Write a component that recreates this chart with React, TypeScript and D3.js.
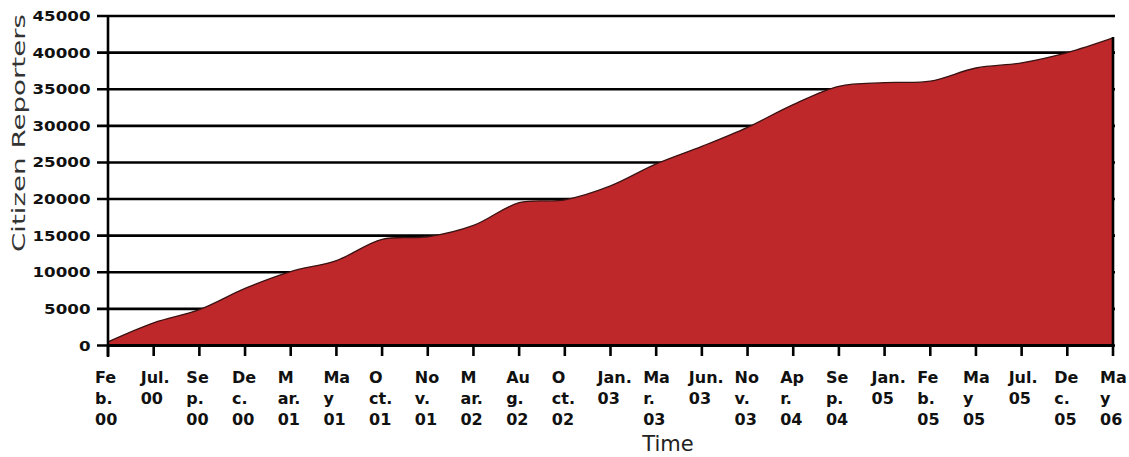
import React from "react";
import * as d3 from "d3";

const categories = [
  "Feb 00", "Jul 00", "Sep 00", "Dec 00", "Mar 01", "May 01", "Oct 01", "Nov 01",
  "Mar 02", "Aug 02", "Oct 02", "Jan 03", "Mar 03", "Jun 03", "Nov 03", "Apr 04",
  "Sep 04", "Jan 05", "Feb 05", "May 05", "Jul 05", "Dec 05", "May 06",
];

const tickLabels = [
  "Fe|b.|00", "Jul.|00", "Se|p.|00", "De|c.|00", "M|ar.|01", "Ma|y|01", "O|ct.|01", "No|v.|01",
  "M|ar.|02", "Au|g.|02", "O|ct.|02", "Jan.|03", "Ma|r.|03", "Jun.|03", "No|v.|03", "Ap|r.|04",
  "Se|p.|04", "Jan.|05", "Fe|b.|05", "Ma|y|05", "Jul.|05", "De|c.|05", "Ma|y|06",
];

const reporters = [
  500, 3100, 4900, 7800, 10100, 11600, 14500, 14850,
  16400, 19500, 19900, 21800, 24800, 27200, 29800, 32900,
  35400, 35900, 36100, 37900, 38600, 40000, 42000,
];

const yTicks = [0, 5000, 10000, 15000, 20000, 25000, 30000, 35000, 40000, 45000];

const yTitle = "Citizen Reporters";
const xTitle = "Time";

const W = 1129;
const H = 457;
const left = 108;
const right = 1113;
const top = 16;
const bottom = 345.5;

export default function App() {
  const x = d3.scalePoint<string>().domain(categories).range([left, right]);
  const y = d3.scaleLinear().domain([0, 45000]).range([bottom, top]);

  const data = categories.map((c, i) => ({ c, v: reporters[i] }));
  const curve = d3.curveCatmullRom.alpha(0.5);

  const area = d3
    .area<{ c: string; v: number }>()
    .x((d) => x(d.c)!)
    .y0(y(0))
    .y1((d) => y(d.v))
    .curve(curve);
  const line = d3
    .line<{ c: string; v: number }>()
    .x((d) => x(d.c)!)
    .y((d) => y(d.v))
    .curve(curve);

  const last = data[data.length - 1];

  return (
    <svg
      width={W}
      height={H}
      style={{ position: "absolute", left: 0, top: 0, background: "#fff" }}
    >
      {/* gridlines */}
      {yTicks.map((t) => (
        <line
          key={"g" + t}
          x1={97}
          x2={right + 2}
          y1={y(t)}
          y2={y(t)}
          stroke="#000"
          strokeWidth={2.6}
        />
      ))}

      {/* area over gridlines */}
      <path d={area(data)!} fill="#BE282A" />
      <path d={line(data)!} fill="none" stroke="#3a1212" strokeWidth={1.3} />

      {/* x axis line */}
      <line x1={left} x2={right} y1={y(0)} y2={y(0)} stroke="#000" strokeWidth={2.8} />
      {/* y axis line */}
      <line x1={left} x2={left} y1={top - 1} y2={357} stroke="#000" strokeWidth={2.6} />
      {/* right edge */}
      <line x1={right} x2={right} y1={y(last.v) - 1} y2={y(0)} stroke="#000" strokeWidth={2.6} />

      {/* x ticks */}
      {categories.map((c) => (
        <line key={"t" + c} x1={x(c)!} x2={x(c)!} y1={y(0)} y2={356} stroke="#000" strokeWidth={2.6} />
      ))}

      {/* y tick labels */}
      {yTicks.map((t) => {
        const s = String(t);
        return (
          <text
            key={"yl" + t}
            x={90.5}
            y={y(t) + 5}
            textAnchor="end"
            fontFamily="DejaVu Sans, Verdana, sans-serif"
            fontWeight="bold"
            fontSize={14}
            textLength={s.length * 11.6}
            lengthAdjust="spacingAndGlyphs"
            fill="#111"
          >
            {s}
          </text>
        );
      })}

      {/* x tick labels */}
      {categories.map((c, i) => {
        const lines = tickLabels[i].split("|");
        return (
          <text
            key={"xl" + c}
            fontFamily="DejaVu Sans, Verdana, sans-serif"
            fontWeight="bold"
            fontSize={16}
            fill="#111"
          >
            {lines.map((ln, j) => (
              <tspan key={j} x={x(c)! - 13} y={383 + j * 21}>
                {ln}
              </tspan>
            ))}
          </text>
        );
      })}

      {/* axis titles */}
      <text
        x={668}
        y={451}
        textAnchor="middle"
        fontFamily="DejaVu Sans, Verdana, sans-serif"
        fontSize={21}
        fill="#222"
      >
        {xTitle}
      </text>
      <text
        transform={`translate(25,133) rotate(-90)`}
        textAnchor="middle"
        fontFamily="DejaVu Sans, Verdana, sans-serif"
        fontSize={17}
        textLength={238}
        lengthAdjust="spacingAndGlyphs"
        fill="#333"
      >
        {yTitle}
      </text>
    </svg>
  );
}
